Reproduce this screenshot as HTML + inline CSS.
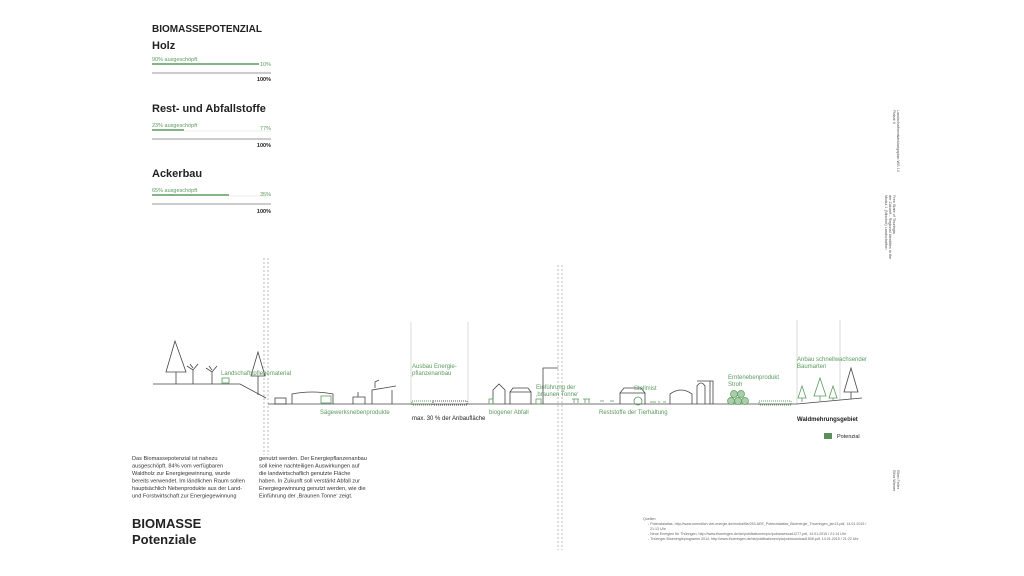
<!DOCTYPE html>
<html><head><meta charset="utf-8"><style>
html,body{margin:0;padding:0;background:#fff;}
svg{display:block;font-family:"Liberation Sans",sans-serif;}
.g{fill:#5b9a5e}
.k{fill:#222}
.ln{stroke:#444;stroke-width:0.8;fill:none}
.gl{stroke:#5b9a5e;stroke-width:0.8;fill:none}
</style></head><body>
<svg width="1024" height="576" viewBox="0 0 1024 576">
<!-- top bars -->
<text x="152" y="32" font-size="10" font-weight="bold" class="k">BIOMASSEPOTENZIAL</text>
<text x="152" y="49" font-size="11" font-weight="bold" class="k">Holz</text>
<text x="152" y="61" font-size="5.5" class="g">90% ausgeschöpft</text>
<line x1="152" y1="64" x2="259" y2="64" stroke="#5b9a5e" stroke-width="1.6"/>
<text x="271" y="66" font-size="5.5" class="g" text-anchor="end">10%</text>
<line x1="152" y1="73" x2="271" y2="73" stroke="#999" stroke-width="1"/>
<text x="271" y="81" font-size="5.5" class="k" text-anchor="end" font-weight="bold">100%</text>

<text x="152" y="112" font-size="11" font-weight="bold" class="k">Rest- und Abfallstoffe</text>
<text x="152" y="127" font-size="5.5" class="g">23% ausgeschöpft</text>
<line x1="152" y1="130" x2="184" y2="130" stroke="#5b9a5e" stroke-width="1.6"/>
<line x1="184" y1="131" x2="271" y2="131" stroke="#ddd" stroke-width="0.6"/>
<text x="271" y="130" font-size="5.5" class="g" text-anchor="end">77%</text>
<line x1="152" y1="139" x2="271" y2="139" stroke="#999" stroke-width="1"/>
<text x="271" y="147" font-size="5.5" class="k" text-anchor="end" font-weight="bold">100%</text>

<text x="152" y="177" font-size="11" font-weight="bold" class="k">Ackerbau</text>
<text x="152" y="192" font-size="5.5" class="g">65% ausgeschöpft</text>
<line x1="152" y1="195" x2="229" y2="195" stroke="#5b9a5e" stroke-width="1.6"/>
<line x1="229" y1="196" x2="271" y2="196" stroke="#ddd" stroke-width="0.6"/>
<text x="271" y="196" font-size="5.5" class="g" text-anchor="end">35%</text>
<line x1="152" y1="204" x2="271" y2="204" stroke="#999" stroke-width="1"/>
<text x="271" y="213" font-size="5.5" class="k" text-anchor="end" font-weight="bold">100%</text>

<!-- dotted verticals -->
<g stroke="#aaa" stroke-width="0.8" stroke-dasharray="2,2">
<line x1="264" y1="258" x2="264" y2="455"/><line x1="268" y1="258" x2="268" y2="455"/>
<line x1="558" y1="265" x2="558" y2="550"/><line x1="562" y1="265" x2="562" y2="550"/>
</g>
<g stroke="#ccc" stroke-width="0.7">
<line x1="411" y1="322" x2="411" y2="404"/><line x1="468" y1="322" x2="468" y2="404"/>
<line x1="797" y1="320" x2="797" y2="404"/><line x1="840" y1="320" x2="840" y2="400"/>
</g>

<!-- ground -->
<polyline class="ln" points="153,384 240,384 266,398"/>
<line class="ln" x1="268" y1="404" x2="797" y2="404"/>
<line class="ln" x1="797" y1="404" x2="862" y2="398"/>

<!-- left trees -->
<polygon class="ln" points="175,341 166,372 186,372"/><line class="ln" x1="176" y1="372" x2="176" y2="384"/>
<polygon class="ln" points="258,352 251,376 265,376"/><line class="ln" x1="258" y1="376" x2="258" y2="395"/>
<g class="ln"><path d="M193,384 V370 M187,366 L193,370 L198,364 M190,364 L193,368"/>
<path d="M212,384 V372 M206,368 L212,372 L217,366 M209,366 L212,370"/></g>
<rect x="222" y="378" width="7" height="5" class="gl"/>
<text x="221" y="375" font-size="6" class="g">Landschaftspflegematerial</text>

<!-- Sägewerk -->
<g class="ln">
<rect x="275" y="398" width="11" height="6"/>
<path d="M292,404 V394 Q312,390 333,394 V404"/>
<path d="M353,404 V397 H365 V404 M358,397 V392"/>
<path d="M372,404 V390 L396,386 M392,390 V404 M375,388 V382 L379,380"/>
</g>
<rect x="321" y="396" width="10" height="7" class="gl"/>
<text x="320" y="414" font-size="6" class="g">Sägewerksnebenprodukte</text>

<!-- energy crops -->
<text x="412" y="368" font-size="6" class="g">Ausbau Energie-</text>
<text x="412" y="375" font-size="6" class="g">pflanzenanbau</text>
<rect x="412" y="401" width="21" height="4" fill="none" stroke="#5b9a5e" stroke-width="1" stroke-dasharray="1,1"/>
<rect x="433" y="401" width="34" height="4" fill="none" stroke="#555" stroke-width="1" stroke-dasharray="1,1"/>
<text x="412" y="420" font-size="6" class="k">max. 30 % der Anbaufläche</text>

<!-- houses -->
<g class="ln">
<path d="M493,404 V390 L499,384 L505,390 V404"/>
<path d="M510,404 V392 L513,388 H528 L531,392 V404 M510,392 H531"/>
<path d="M543,404 V368 H558"/>
</g>
<rect x="489" y="399" width="4" height="5" class="gl"/>
<rect x="536" y="399" width="5" height="5" class="gl"/>
<text x="489" y="414" font-size="6" class="g">biogener Abfall</text>
<text x="536" y="389" font-size="6" class="g">Einführung der</text>
<text x="536" y="396" font-size="6" class="g">‚braunen Tonne‘</text>

<!-- animals / farm -->
<g class="gl"><path d="M572,399 H579 M574,399 V403 M578,399 V403 M583,399 H590 M585,399 V403 M589,399 V403 M600,401 H604 M610,401 H614"/></g>
<g class="ln">
<path d="M620,404 V393 L624,388 H641 L645,393 V404 M620,393 H645"/>
<path d="M670,404 V394 Q681,386 692,394 V404"/>
<path d="M697,404 V386 Q701,380 705,386 V404 M697,381 H713 V404 M710,381 V404"/>
</g>
<circle cx="638" cy="401" r="4" class="gl"/>
<g class="gl"><path d="M650,402 H656 M658,402 H660 M663,402 H666"/></g>
<text x="634" y="390" font-size="6" class="g">Stallmist</text>
<text x="599" y="414" font-size="6" class="g">Reststoffe der Tierhaltung</text>

<!-- straw -->
<g fill="#a9cfa9" stroke="#5b9a5e" stroke-width="0.7">
<circle cx="734" cy="394" r="3.5"/><circle cx="741" cy="394" r="3.5"/>
<circle cx="731" cy="401" r="3.5"/><circle cx="738" cy="401" r="3.5"/><circle cx="745" cy="401" r="3.5"/>
</g>
<text x="728" y="379" font-size="6" class="g">Erntenebenprodukt</text>
<text x="728" y="386" font-size="6" class="g">Stroh</text>
<rect x="759" y="401" width="32" height="4" fill="none" stroke="#5b9a5e" stroke-width="1" stroke-dasharray="1,1"/>

<!-- forest -->
<text x="797" y="361" font-size="6" class="g">Anbau schnellwachsender</text>
<text x="797" y="368" font-size="6" class="g">Baumarten</text>
<g class="gl">
<polygon points="802,386 798,398 806,398"/><line x1="802" y1="398" x2="802" y2="402"/>
<polygon points="820,378 814,396 826,396"/><line x1="820" y1="396" x2="820" y2="401"/>
<polygon points="833,386 829,398 837,398"/><line x1="833" y1="398" x2="833" y2="401"/>
</g>
<polygon class="ln" points="851,368 844,392 858,392"/><line class="ln" x1="851" y1="392" x2="851" y2="399"/>
<text x="797" y="421" font-size="6" class="k" font-weight="bold">Waldmehrungsgebiet</text>
<rect x="824" y="433" width="8" height="6" fill="#5b8f5e"/>
<text x="837" y="438" font-size="5.5" class="k">Potenzial</text>

<!-- body text -->
<g font-size="5.6" fill="#333">
<text x="132" y="460">Das Biomassepotenzial ist nahezu</text>
<text x="132" y="467.5">ausgeschöpft. 84% vom verfügbaren</text>
<text x="132" y="475">Waldholz zur Energiegewinnung, wurde</text>
<text x="132" y="482.5">bereits verwendet. Im ländlichen Raum sollen</text>
<text x="132" y="490">hauptsächlich Nebenprodukte aus der Land-</text>
<text x="132" y="497.5">und Forstwirtschaft zur Energiegewinnung</text>
<text x="259" y="460">genutzt werden. Der Energiepflanzenanbau</text>
<text x="259" y="467.5">soll keine nachteiligen Auswirkungen auf</text>
<text x="259" y="475">die landwirtschaflich genutzte Fläche</text>
<text x="259" y="482.5">haben. In Zukunft soll verstärkt Abfall zur</text>
<text x="259" y="490">Energiegewinnung genutzt werden, wie die</text>
<text x="259" y="497.5">Einführung der ‚Braunen Tonne‘ zeigt.</text>
</g>
<text x="132" y="528" font-size="13" font-weight="bold" fill="#222">BIOMASSE</text>
<text x="132" y="544" font-size="13" font-weight="bold" fill="#222">Potenziale</text>

<!-- sources -->
<g font-size="3.6" fill="#666">
<text x="643" y="520">Quellen:</text>
<text x="648" y="525">- Potenzialatlas, http://www.unendlich-viel-energie.de/media/file/253.AEE_Potenzialatlas_Bioenergie_Thueringen_jan13.pdf, 14.01.2015 /</text>
<text x="650" y="530">21:13 Uhr</text>
<text x="648" y="535">- Neue Energien für Thüringen, http://www.thueringen.de/de/publikationen/pic/pubdownload1277.pdf, 14.01.2015 / 21:14 Uhr</text>
<text x="648" y="540">- Thüringer Bioenergieprogramm 2014, http://www.thueringen.de/de/publikationen/pic/pubdownload1508.pdf, 14.01.2015 / 21:22 Uhr</text>
</g>

<!-- vertical side text -->
<g font-size="3.8" fill="#555">
<text transform="translate(893,110) rotate(90)">Plakat II</text>
<text transform="translate(897,110) rotate(90)">Landschaftsentwicklungsplan WS 14</text>
<text transform="translate(885,195) rotate(90)">Modul 1 (Nitschel) Landschaften</text>
<text transform="translate(889,195) rotate(90)">der Zukunft - Regional Identities in the</text>
<text transform="translate(893,195) rotate(90)">Free State of Thuringia</text>
<text transform="translate(893,470) rotate(90)">Elisa Wiener</text>
<text transform="translate(897,470) rotate(90)">Ellen Feller</text>
</g>
</svg>
</body></html>
